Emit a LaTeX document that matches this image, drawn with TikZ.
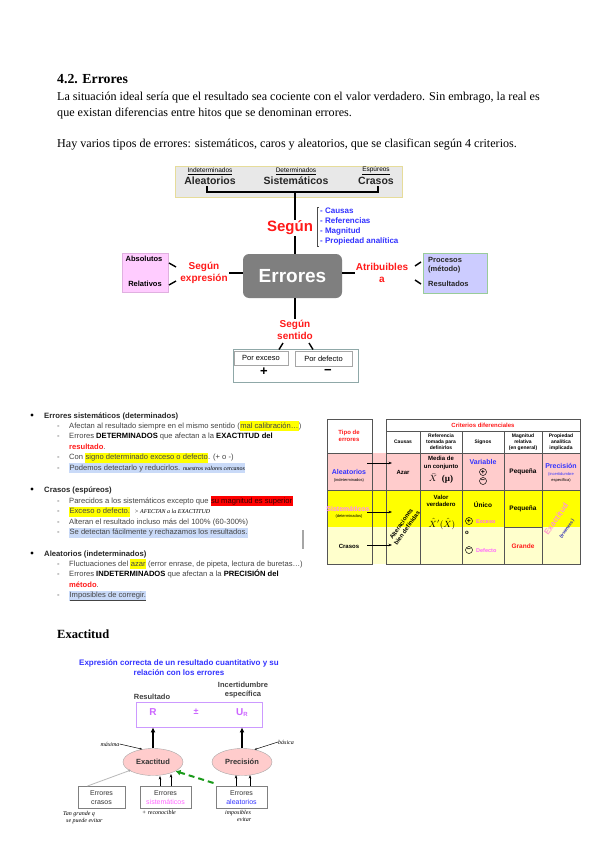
\documentclass[tikz,border=0pt]{standalone}
\usepackage{fontspec}
\setmainfont{Liberation Serif}
\setsansfont{Liberation Sans}
\usetikzlibrary{arrows.meta,shapes.geometric,calc}
\definecolor{redt}{HTML}{FF1A1A}
\definecolor{bluet}{HTML}{3333FF}
\definecolor{boxgray}{HTML}{E8E8E8}
\definecolor{boxyel}{HTML}{E6DC9A}
\definecolor{pinkbox}{HTML}{FFCCFF}
\definecolor{pinkborder}{HTML}{E0B0E0}
\definecolor{lavbox}{HTML}{CCCCFF}
\definecolor{lavborder}{HTML}{99CC99}
\definecolor{errgray}{HTML}{7F7F7F}
\definecolor{tealb}{HTML}{8FA8A8}
\definecolor{txtgray}{HTML}{444444}
\definecolor{hly}{HTML}{FFFF00}
\definecolor{hlr}{HTML}{FF0000}
\definecolor{hlb}{HTML}{C9DAF8}
\definecolor{tpink}{HTML}{FFCCCC}
\definecolor{tyel}{HTML}{FFFF00}
\definecolor{tlight}{HTML}{FFFFCC}
\definecolor{tline}{HTML}{555555}
\definecolor{pinkt}{HTML}{FF66FF}
\definecolor{violett}{HTML}{CC66FF}
\definecolor{lavline}{HTML}{CC99FF}
\definecolor{ellfill}{HTML}{FFCCCC}
\definecolor{greena}{HTML}{1A9A1A}
\definecolor{exorange}{HTML}{FF99CC}
\newcommand\fz[2]{\fontsize{#1}{#2}\selectfont}
\newcommand\hly[1]{{\setlength\fboxsep{0.4pt}\colorbox{hly}{\strut #1}}}
\newcommand\hlr[1]{{\setlength\fboxsep{0.4pt}\colorbox{hlr}{\strut #1}}}
\newcommand\hlb[1]{{\setlength\fboxsep{0.4pt}\colorbox{hlb}{\strut #1}}}
\newcommand\hand{\rmfamily\itshape\fz{6}{7}\color{black}}
\tikzset{
  conn/.style={line width=1.5pt, draw=black},
  tickln/.style={line width=1.4pt, draw=black},
  seg/.style={font=\sffamily\bfseries\fz{10}{12}, text=redt, align=center, inner sep=1pt},
  blist/.style={font=\sffamily\fz{7.6}{9.4}, text=txtgray, anchor=base west, inner sep=0},
  bhead/.style={font=\sffamily\bfseries\fz{7.7}{9.4}, text=black!85, anchor=base west, inner sep=0},
  dashm/.style={font=\sffamily\fz{7.6}{9.4}, text=txtgray, anchor=base west, inner sep=0},
  bdot/.style={circle, fill=black, inner sep=0, minimum size=3.4pt},
  tt/.style={font=\sffamily\bfseries\fz{5}{5.8}, align=center, inner sep=0},
  pm/.style={circle, draw=black, line width=0.5pt, inner sep=0, minimum size=7pt, font=\sffamily\bfseries\fz{7}{7}},
  ebox/.style={draw=gray, line width=1pt, fill=white, minimum width=47pt, minimum height=22pt, align=center, font=\sffamily\fz{7}{8.5}, text=black!80, inner sep=0},
  ell/.style={ellipse, draw=gray!70, fill=ellfill, minimum width=60pt, minimum height=27pt, font=\sffamily\bfseries\fz{7.5}{8}, text=black!80, inner sep=0},
}
\begin{document}
\begin{tikzpicture}[x=1pt,y=-1pt]
\fill[white] (0,0) rectangle (599,848);
\useasboundingbox (0,0) rectangle (599,848);

% ---------- heading and text
\node[anchor=base west, inner sep=0, font=\fz{13.8}{15}\bfseries] (title) at (57,84) {4.2. Errores};
\node[anchor=base west, inner sep=0, font=\fz{12.1}{14}] (p1) at (57,100.5) {La situación ideal sería que el resultado sea cociente con el valor verdadero. Sin embrago, la real es};
\node[anchor=base west, inner sep=0, font=\fz{12.1}{14}] (p2) at (57,116.5) {que existan diferencias entre hitos que se denominan errores.};
\node[anchor=base west, inner sep=0, font=\fz{12.1}{14}] (p3) at (57,147) {Hay varios tipos de errores: sistemáticos, caros y aleatorios, que se clasifican según 4 criterios.};

% ---------- top diagram
\node[draw=boxyel, line width=1pt, fill=boxgray, minimum width=227pt, minimum height=31pt, inner sep=0] (topbox) at (288.5,181.5) {};
\node[font=\sffamily\fz{6.5}{7}, inner sep=0] (indet) at (210,171) {\underline{Indeterminados}};
\node[font=\sffamily\bfseries\fz{10.5}{11}, inner sep=0, text=black!85] (alea) at (210,181) {Aleatorios};
\node[font=\sffamily\fz{6.5}{7}, inner sep=0] (deter) at (296,171) {\underline{Determinados}};
\node[font=\sffamily\bfseries\fz{10.5}{11}, inner sep=0, text=black!85] (sist) at (296,181) {Sistemáticos};
\node[font=\sffamily\fz{6.5}{7}, inner sep=0] (espu) at (376,171) {\underline{Espúreos}};
\node[font=\sffamily\bfseries\fz{10.5}{11}, inner sep=0, text=black!85] (cras) at (376,181) {Crasos};
\coordinate (bl) at (207,186);
\coordinate (br) at (378,186);
\coordinate (brk) at (295,192);
\draw[conn] (bl) |- (brk) -| (br);

\node[fill=errgray, rounded corners=6pt, minimum width=99pt, minimum height=44pt, text=white, font=\sffamily\bfseries\fz{19}{20}, inner sep=0] (err) at (292.5,276) {Errores};
\draw[conn] (brk) -- (err.north -| brk);
\node[font=\sffamily\bfseries\fz{15}{16}, text=redt, fill=white, inner sep=1pt] (segun) at (290,228) {Según};
\coordinate (brt) at (319,207);
\coordinate (brb) at (319,246);
\draw[line width=0.8pt, black!70] (brt) -- ++(-2,0) -- ($(brb)+(-2,0)$) -- (brb);
\node[font=\sffamily\bfseries\fz{8}{10}, text=bluet, anchor=north west, align=left, inner sep=0] (crit) at (320,207.5) {- Causas\\- Referencias\\- Magnitud\\- Propiedad analítica};

% left
\node[seg] (segexp) at (204,273) {Según\\expresión};
\draw[conn] (err.west |- segexp.east) -- (segexp.east);
\node[draw=pinkborder, fill=pinkbox, minimum width=46pt, minimum height=39pt, inner sep=0] (pinkb) at (145,272.5) {};
\node[font=\sffamily\bfseries\fz{7.5}{8}, inner sep=0] (abs) at (144,259) {Absolutos};
\node[font=\sffamily\bfseries\fz{7.5}{8}, inner sep=0] (rel) at (145,284) {Relativos};
\coordinate (ta1) at (169,263); \coordinate (ta2) at (176,267);
\coordinate (tb1) at (169,285); \coordinate (tb2) at (176,281);
\draw[tickln] (ta1) -- (ta2);
\draw[tickln] (tb1) -- (tb2);

% right
\node[seg] (atri) at (382,273) {Atribuibles\\a};
\draw[conn] (err.east |- atri.west) -- (atri.west);
\node[draw=lavborder, line width=0.8pt, fill=lavbox, minimum width=64pt, minimum height=40pt, inner sep=0] (lavb) at (455,273) {};
\node[font=\sffamily\bfseries\fz{7.5}{9}, anchor=north west, align=left, inner sep=0, text=black!85] (proc) at (428,257) {Procesos\\(método)};
\node[font=\sffamily\bfseries\fz{7.5}{9}, anchor=west, inner sep=0, text=black!85] (resu) at (428,284) {Resultados};
\coordinate (tc1) at (415,266); \coordinate (tc2) at (421,262);
\coordinate (td1) at (415,280); \coordinate (td2) at (421,284);
\draw[tickln] (tc1) -- (tc2);
\draw[tickln] (td1) -- (td2);

% bottom
\node[seg] (segsen) at (295,330) {Según\\sentido};
\draw[conn] (err.south -| segsen.north) -- (segsen.north);
\node[draw=tealb, line width=1pt, fill=white, minimum width=125pt, minimum height=33pt, inner sep=0] (sentb) at (295.5,365.5) {};
\node[draw=gray!70, line width=0.8pt, minimum width=54pt, minimum height=14pt, font=\sffamily\fz{7.5}{8}, inner sep=0] (exc) at (261,358) {Por exceso};
\node[draw=gray!70, line width=0.8pt, minimum width=57pt, minimum height=15pt, font=\sffamily\fz{7.5}{8}, inner sep=0] (def) at (323.5,358.5) {Por defecto};
\node[font=\sffamily\bfseries\fz{13}{13}, inner sep=0] (plus) at (264,372) {+};
\node[font=\sffamily\bfseries\fz{13}{13}, inner sep=0] (minus) at (328,372) {\textminus};
\coordinate (te1) at (283,343); \coordinate (te2) at (279,349.5);
\coordinate (tf1) at (309,343); \coordinate (tf2) at (313,349.5);
\draw[tickln] (te1) -- (te2);
\draw[tickln] (tf1) -- (tf2);

% ---------- bullet list
\node[bdot] (d1) at (32,415) {};
\node[bhead] (h1) at (44,418) {Errores sistemáticos (determinados)};
\node[dashm] (m11) at (57,428) {-}; \node[blist] (l11) at (69,428) {Afectan al resultado siempre en el mismo sentido (\hly{mal calibración…})};
\node[dashm] (m12) at (57,438.5) {-}; \node[blist] (l12) at (69,438.5) {Errores \textbf{\color{black}DETERMINADOS} que afectan a la \textbf{\color{black}EXACTITUD del}};
\node[blist] (l13) at (69,449) {\textcolor{redt}{\textbf{resultado}}.};
\node[dashm] (m14) at (57,459.5) {-}; \node[blist] (l14) at (69,459.5) {Con \hly{signo determinado exceso o defecto}. (+ o -)};
\node[dashm] (m15) at (57,470) {-}; \node[blist] (l15) at (69,470) {\hlb{Podemos detectarlo y reducirlos. {\hand nuestros valores cercanos}}};

\node[bdot] (d2) at (32,489) {};
\node[bhead] (h2) at (44,492) {Crasos (espúreos)};
\node[dashm] (m21) at (57,503) {-}; \node[blist] (l21) at (69,503) {Parecidos a los sistemáticos excepto que \hlr{\color{black!80!red}su magnitud es superior}};
\node[dashm] (m22) at (57,513.5) {-}; \node[blist] (l22) at (69,513.5) {\hly{Exceso o defecto.}\ \ {\hand > AFECTAN a la EXACTITUD}};
\node[dashm] (m23) at (57,524) {-}; \node[blist] (l23) at (69,524) {Alteran el resultado incluso más del 100\% (60-300\%)};
\node[dashm] (m24) at (57,534.5) {-}; \node[blist] (l24) at (69,534.5) {\hlb{Se detectan fácilmente y rechazamos los resultados.}};
\coordinate (sb1) at (303,530); \coordinate (sb2) at (303,549);
\draw[line width=1.2pt, gray!70] (sb1) -- (sb2);

\node[bdot] (d3) at (32,553) {};
\node[bhead] (h3) at (44,556) {Aleatorios (indeterminados)};
\node[dashm] (m31) at (57,566) {-}; \node[blist] (l31) at (69,566) {Fluctuaciones del \hly{azar} (error enrase, de pipeta, lectura de buretas…)};
\node[dashm] (m32) at (57,576.5) {-}; \node[blist] (l32) at (69,576.5) {Errores \textbf{\color{black}INDETERMINADOS} que afectan a la \textbf{\color{black}PRECISIÓN del}};
\node[blist] (l33) at (69,587) {\textcolor{redt}{\textbf{método}}.};
\node[dashm] (m34) at (57,597.5) {-}; \node[blist] (l34) at (69,597.5) {\hlb{\underline{Imposibles de corregir.}}};

% ---------- table
\fill[tpink] (327,453) rectangle (580,490);
\fill[tyel] (327,490) rectangle (580,527);
\fill[tlight] (327,527) rectangle (580,564);
\begin{scope}[draw=tline, line width=0.8pt]
\draw (327,419) rectangle (372,564);
\draw (327,453) -- (372,453);
\draw (327,490) -- (580,490);
\draw (386,419) rectangle (580,564);
\draw (386,431) -- (580,431);
\draw (386,453) -- (580,453);
\foreach \cx in {420,462,504,542} \draw (\cx,431) -- (\cx,564);
\draw (504,527) -- (542,527);
\end{scope}
\node[tt, font=\sffamily\bfseries\fz{6}{7}, text=redt] (ttipo) at (349,436) {Tipo de\\errores};
\node[tt, font=\sffamily\bfseries\fz{6}{7}, text=redt] (tcrit) at (483,425) {Criterios diferenciales};
\node[tt] (tcaus) at (403,442) {Causas};
\node[tt] (tref) at (441,442) {Referencia\\tomada para\\definirlos};
\node[tt] (tsig) at (483,442) {Signos};
\node[tt] (tmag) at (523,442) {Magnitud\\relativa\\(en general)};
\node[tt] (tprop) at (561,442) {Propiedad\\analítica\\implicada};

\node[tt, font=\sffamily\bfseries\fz{7}{8}, text=bluet] (ralea) at (349,472) {Aleatorios};
\node[tt, font=\sffamily\fz{4}{5}] (rindet) at (349,480) {(indeterminados)};
\node[tt, font=\sffamily\bfseries\fz{6}{7}] (razar) at (403,472) {Azar};
\node[tt, font=\sffamily\bfseries\fz{6}{7.6}] (rmedia) at (441,463) {Media de\\un conjunto};
\node[tt, font=\fz{9}{10}] (rxbar) at (441,479) {$\bar{X}$\ \ \textbf{(\textmu)}};
\node[tt, font=\sffamily\bfseries\fz{7}{8}, text=bluet] (rvar) at (483,462) {Variable};
\node[pm] (rp1) at (483,472) {+};
\node[pm] (rm1) at (483,481) {\textminus};
\node[tt, font=\sffamily\bfseries\fz{6.5}{7}] (rpeq1) at (523,472) {Pequeña};
\node[tt, font=\sffamily\bfseries\fz{7}{8}, text=bluet] (rprec) at (561,466) {Precisión};
\node[tt, font=\sffamily\fz{4}{5}, text=bluet] (rinc) at (561,474) {(incertidumbre};
\node[tt, font=\sffamily\fz{4}{5}] (resp) at (561,480) {específica)};

\node[tt, font=\sffamily\bfseries\fz{7}{8}, text=pinkt!80] (rsist) at (348,509) {Sistemáticos};
\node[tt, font=\sffamily\fz{4}{5}] (rdet) at (349,516) {(determinados)};
\node[tt, font=\sffamily\bfseries\fz{6}{7}] (rcras) at (349,546) {Crasos};
\coordinate (ar1) at (367,463); \coordinate (ar1e) at (392,463);
\coordinate (ar2) at (367,512); \coordinate (ar2e) at (392,512);
\coordinate (ar3) at (367,545); \coordinate (ar3e) at (392,545);
\draw[line width=0.7pt, -{Stealth[length=3.5pt]}] (ar1) -- (ar1e);
\draw[line width=0.7pt, -{Stealth[length=3.5pt]}] (ar2) -- (ar2e);
\draw[line width=0.7pt, -{Stealth[length=3.5pt]}] (ar3) -- (ar3e);
\node[tt, font=\sffamily\bfseries\fz{6}{7}, rotate=55] (ralt) at (404,526) {Alteraciones\\bien definidas};
\node[tt, font=\sffamily\bfseries\fz{6}{7.6}] (rvalor) at (441,501) {Valor\\verdadero};
\node[tt, font=\fz{9}{10}] (rxhat) at (442,524) {$\hat{X}'(\hat{X})$};
\node[tt, font=\sffamily\bfseries\fz{6.5}{7}] (runico) at (483,505) {Único};
\node[pm] (rp2) at (469,521) {+};
\node[tt, font=\sffamily\bfseries\fz{5.5}{6}, text=pinkt, anchor=west] (rexc) at (476,521.5) {Exceso};
\node[tt, font=\sffamily\bfseries\fz{6}{7}] (ro) at (467,533) {o};
\node[pm] (rm2) at (469,550) {\textminus};
\node[tt, font=\sffamily\bfseries\fz{5.5}{6}, text=pinkt, anchor=west] (rdef) at (476,550.5) {Defecto};
\node[tt, font=\sffamily\bfseries\fz{6.5}{7}] (rpeq2) at (523,509) {Pequeña};
\node[tt, font=\sffamily\bfseries\fz{6.5}{7}, text=redt] (rgran) at (523,546) {Grande};
\node[tt, font=\sffamily\bfseries\fz{8}{9}, text=exorange, rotate=55] (rexac) at (556,519) {Exactitud};
\node[tt, font=\sffamily\bfseries\fz{4.5}{5}, text=bluet!70!black, rotate=55] (rtrue) at (567,529) {(trueness)};

% ---------- Exactitud section
\node[anchor=base west, inner sep=0, font=\fz{12.5}{14}\bfseries] (ext) at (57,638) {Exactitud};
\node[font=\sffamily\bfseries\fz{8}{10}, text=bluet, align=center, inner sep=0] (exptit) at (179,668) {Expresión correcta de un resultado cuantitativo y su\\relación con los errores};
\node[font=\sffamily\bfseries\fz{7.5}{9}, text=black!75, inner sep=0] (resl) at (152,697) {Resultado};
\node[font=\sffamily\bfseries\fz{7.5}{9}, text=black!75, align=center, inner sep=0] (incl) at (243,690) {Incertidumbre\\específica};
\node[draw=lavline, line width=0.8pt, minimum width=126pt, minimum height=25pt, inner sep=0] (rbox) at (199,714.5) {};
\node[font=\sffamily\bfseries\fz{10}{11}, text=violett, inner sep=0] (rr) at (153,712) {R};
\node[font=\sffamily\bfseries\fz{9}{10}, text=violett, inner sep=0] (rpm) at (196,712) {±};
\node[font=\sffamily\bfseries\fz{10}{11}, text=violett, inner sep=0] (ru) at (242,712.5) {U\raisebox{-1.5pt}{\fz{6}{6}R}};

\node[ell] (exact) at (153,762) {Exactitud};
\node[ell] (prec) at (242,762) {Precisión};
\draw[line width=1.8pt, -{Latex[length=5pt,width=5pt]}] (exact.north) -- (exact.north |- rbox.south);
\draw[line width=1.8pt, -{Latex[length=5pt,width=5pt]}] (prec.north) -- (prec.north |- rbox.south);

\node[ebox] (bcras) at (101.5,797.5) {Errores\\crasos};
\node[ebox, minimum width=51pt] (bsist) at (165.5,797.5) {Errores\\{\color{pinkt}sistemáticos}};
\node[ebox, minimum width=51pt] (balea) at (241.5,797.5) {Errores\\{\color{bluet}aleatorios}};

\draw[line width=0.7pt, -{Stealth[length=3.5pt]}] ($(bsist.north)+(-5.5,0)$) -- ($(bsist.north)+(-5.5,-10)$);
\draw[line width=0.7pt, -{Stealth[length=3.5pt]}] ($(bsist.north)+(5.5,0)$) -- ($(bsist.north)+(5.5,-12)$);
\draw[line width=0.7pt, -{Stealth[length=3.5pt]}] ($(balea.north)+(-5.5,0)$) -- ($(balea.north)+(-5.5,-11)$);
\draw[line width=0.7pt, -{Stealth[length=3.5pt]}] ($(balea.north)+(8.5,0)$) -- ($(balea.north)+(8.5,-11)$);
\draw[greena, line width=2pt, dash pattern=on 6pt off 4pt, -{Latex[length=5pt,width=6pt]}] ($(balea.north west)+(-2,-3)$) -- (exact.-22);
\draw[gray!55, line width=0.8pt] ($(bcras.north west)+(10,0)$) -- (exact.200);
\fill[gray!70] (exact.200) circle (1.2pt);

% handwriting
\node[font=\hand, inner sep=0] (hmax) at (110,744) {máxima};
\node[font=\hand, inner sep=0] (hbas) at (286,742) {básica};
\draw[line width=0.5pt, -{Stealth[length=2.5pt]}] (hmax.east) -- (exact.130);
\draw[line width=0.5pt, -{Stealth[length=2.5pt]}] (hbas.west) -- (prec.45);
\node[font=\hand, align=left, anchor=north west, inner sep=0] (hcras) at (63,811) {Tan grande q\\\ \ se puede evitar};
\node[font=\hand, anchor=north west, inner sep=0] (hsist) at (142,810) {+ reconocible};
\node[font=\hand, align=left, anchor=north west, inner sep=0] (halea) at (225,810) {imposibles\\\hspace{12pt}evitar};
\end{tikzpicture}
\end{document}
